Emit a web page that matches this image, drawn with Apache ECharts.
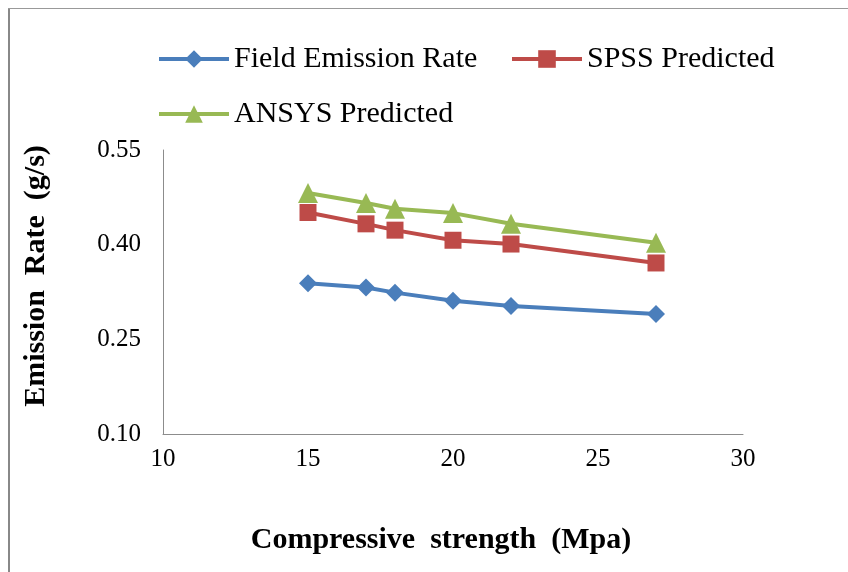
<!DOCTYPE html>
<html>
<head>
<meta charset="utf-8">
<script src="https://cdn.jsdelivr.net/npm/echarts@6/dist/echarts.min.js"></script>
<style>
  html, body { margin: 0; padding: 0; background: #fff; }
  #chart { width: 848px; height: 572px; }
</style>
</head>
<body>
<div id="chart"></div>
<script>
// Compressive strength (MPa) at which emission was measured
const strength = [15, 17, 18, 20, 22, 27];
// Emission rates (g/s)
const fieldEmission = [0.339, 0.332, 0.324, 0.311, 0.303, 0.290];
const spssPredicted = [0.451, 0.433, 0.423, 0.407, 0.401, 0.371];
const ansysPredicted = [0.482, 0.466, 0.457, 0.450, 0.433, 0.403];
const seriesNames = ['Field Emission Rate', 'SPSS Predicted', 'ANSYS Predicted'];
const yTicks = [0.10, 0.25, 0.40, 0.55];
const xTicks = [10, 15, 20, 25, 30];

const serif = '"Liberation Serif", "DejaVu Serif", serif';
const colors = ['#4A7EBB', '#BE4B48', '#98B954'];
const symbols = ['diamond', 'rect', 'triangle'];
const symbolSizes = [18, 17, 20];
const values = [fieldEmission, spssPredicted, ansysPredicted];

const chart = echarts.init(document.getElementById('chart'), null, { renderer: 'canvas' });

const legendPos = [
  { left: 152, top: 39 },
  { left: 505, top: 39 },
  { left: 152, top: 94 }
];

const option = {
  backgroundColor: '#ffffff',
  animation: false,
  color: colors,
  legend: seriesNames.map((name, i) => ({
    data: [name],
    left: legendPos[i].left,
    top: legendPos[i].top,
    itemWidth: 70,
    itemHeight: 22,
    itemGap: 10,
    lineStyle: { width: 4 },
    textStyle: { fontFamily: serif, fontSize: 30, color: '#000' }
  })),
  grid: { left: 163, right: 105, top: 150, bottom: 138, containLabel: false },
  xAxis: {
    type: 'value',
    min: xTicks[0],
    max: xTicks[xTicks.length - 1],
    interval: 5,
    name: 'Compressive  strength  (Mpa)',
    nameLocation: 'middle',
    nameGap: 91,
    nameTextStyle: { fontFamily: serif, fontSize: 30, fontWeight: 'bold', color: '#000', padding: [0, 24, 0, 0] },
    axisLine: { show: true, lineStyle: { color: '#8c8c8c', width: 1 } },
    axisTick: { show: false },
    splitLine: { show: false },
    axisLabel: { fontFamily: serif, fontSize: 25, color: '#000', margin: 13 }
  },
  yAxis: {
    type: 'value',
    min: yTicks[0],
    max: yTicks[yTicks.length - 1],
    interval: 0.15,
    name: 'Emission  Rate  (g/s)',
    nameLocation: 'middle',
    nameGap: 112,
    nameTextStyle: { fontFamily: serif, fontSize: 30, fontWeight: 'bold', color: '#000', padding: [0, 0, 0, 32] },
    axisLine: { show: true, lineStyle: { color: '#8c8c8c', width: 1 } },
    axisTick: { show: false },
    splitLine: { show: false },
    axisLabel: {
      fontFamily: serif, fontSize: 25, color: '#000', margin: 22,
      formatter: v => v.toFixed(2)
    }
  },
  series: seriesNames.map((name, i) => ({
    name,
    type: 'line',
    data: strength.map((x, j) => [x, values[i][j]]),
    symbol: symbols[i],
    symbolSize: symbolSizes[i],
    lineStyle: { color: colors[i], width: 4 },
    itemStyle: { color: colors[i] },
    z: 2 + i
  })),
  graphic: [
    { type: 'line', shape: { x1: 9, y1: 8, x2: 9, y2: 572 }, style: { stroke: '#888', lineWidth: 2 } },
    { type: 'line', shape: { x1: 8, y1: 8.5, x2: 848, y2: 8.5 }, style: { stroke: '#999', lineWidth: 1 } }
  ]
};

chart.setOption(option);
</script>
</body>
</html>
